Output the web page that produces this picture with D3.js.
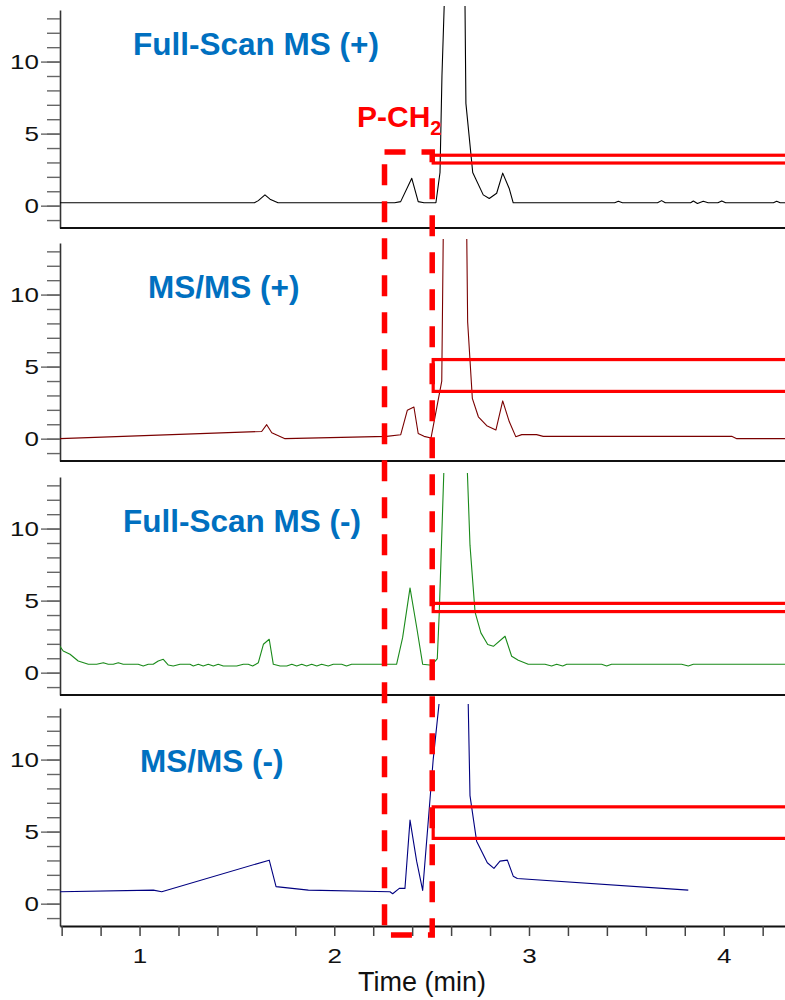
<!DOCTYPE html>
<html>
<head>
<meta charset="utf-8">
<script src="https://cdn.jsdelivr.net/npm/d3@7"></script>
<style>
  html, body { margin: 0; padding: 0; background: #fff; }
  svg { display: block; }
</style>
</head>
<body>
<svg id="chart" width="785" height="1000"></svg>
<script>
// ---------------- DATA ----------------
const panelTitles = ["Full-Scan MS (+)", "MS/MS (+)", "Full-Scan MS (-)", "MS/MS (-)"];
const panelColors = ["#000000", "#7a0000", "#1a8a1a", "#000080"];

const fsPosTime = [0.59,1.59,1.61,1.644,1.67,1.711,2.31,2.341,2.398,2.431,2.461,2.522,2.543,2.553,2.566,2.615,2.671,2.676,2.711,2.765,2.796,2.834,2.865,2.899,2.919,3.44,3.459,3.48,3.66,3.681,3.70,3.83,3.844,3.865,3.895,3.92,3.97,3.99,4.01,4.255,4.272,4.29,4.315];
const fsPosVal  = [0.2,0.2,0.35,0.75,0.45,0.2,0.2,0.28,1.9,0.28,0.2,0.2,2.3,9,14.5,60,14.5,7.1,2.3,0.75,0.5,0.86,2.26,1.17,0.2,0.2,0.3,0.2,0.2,0.35,0.2,0.2,0.32,0.15,0.3,0.2,0.2,0.33,0.2,0.2,0.3,0.2,0.2];

const msmsPosTime = [0.59,1.627,1.653,1.679,1.747,2.269,2.341,2.375,2.409,2.431,2.461,2.497,2.552,2.560,2.62,2.680,2.685,2.709,2.740,2.783,2.830,2.865,2.899,2.932,2.963,3.039,3.073,4.041,4.067,4.315];
const msmsPosVal  = [0,0.5,0.97,0.41,0,0.16,0.27,1.97,2.2,0.36,0.16,0.05,4.0,14.5,60,14.5,8.1,2.8,1.52,0.9,0.6,2.62,1.17,0.14,0.28,0.28,0.16,0.16,0,0];

const fsNegTime = [0.59,0.608,0.643,0.685,0.737,0.780,0.814,0.839,0.865,0.891,0.916,0.993,1.019,1.045,1.070,1.096,1.122,1.148,1.173,1.208,1.259,1.276,1.302,1.327,1.353,1.379,1.404,1.430,1.499,1.533,1.558,1.581,1.610,1.636,1.666,1.687,1.722,1.756,1.782,1.807,1.833,1.858,1.884,1.910,1.935,1.969,1.995,2.038,2.063,2.089,2.320,2.351,2.389,2.423,2.454,2.500,2.529,2.539,2.564,2.62,2.682,2.697,2.723,2.753,2.788,2.817,2.877,2.911,2.945,2.996,3.082,3.116,3.142,3.173,3.194,3.373,3.399,3.424,3.784,3.818,3.844,4.315];
const fsNegVal  = [1.85,1.5,1.28,0.81,0.58,0.58,0.69,0.58,0.58,0.69,0.58,0.58,0.46,0.58,0.58,0.81,0.93,0.53,0.46,0.58,0.58,0.46,0.58,0.46,0.58,0.46,0.58,0.46,0.46,0.58,0.58,0.46,0.69,1.97,2.32,0.58,0.46,0.46,0.58,0.46,0.58,0.46,0.58,0.46,0.58,0.46,0.58,0.58,0.46,0.58,0.58,2.43,5.88,3.17,0.58,0.51,0.97,4.1,14.5,60,14.5,8.85,4.2,2.76,1.95,1.83,2.53,1.14,0.86,0.58,0.58,0.46,0.58,0.46,0.58,0.58,0.46,0.58,0.58,0.46,0.58,0.58];

const msmsNegTime = [0.59,1.071,1.114,1.666,1.701,1.867,2.286,2.300,2.334,2.363,2.389,2.423,2.454,2.492,2.508,2.539,2.60,2.687,2.697,2.731,2.786,2.820,2.851,2.889,2.919,2.940,3.818];
const msmsNegVal  = [0.83,0.94,0.83,3.02,1.18,0.94,0.83,0.69,1.06,1.06,5.8,2.95,0.92,7.3,10.0,14.0,60,14.5,7.5,4.34,2.84,2.45,2.95,3.02,1.91,1.75,0.94];

const seriesTimes = [fsPosTime, msmsPosTime, fsNegTime, msmsNegTime];
const seriesVals  = [fsPosVal, msmsPosVal, fsNegVal, msmsNegVal];

const xTickValues = [0.6,0.8,1,1.2,1.4,1.6,1.8,2,2.2,2.4,2.6,2.8,3,3.2,3.4,3.6,3.8,4,4.2];
const xTickLabels = [1,2,3,4];
const yMinorTicks = [-1,0,1,2,3,4,5,6,7,8,9,10,11,12,13];
const yMajorTicks = [0,5,10];
const xLabel = "Time (min)";

// annotation (red) values in data units
const markerStart = 2.508;              // min
const markerTop    = [3.50, 5.49, 4.81, 6.72];
const markerBottom = [2.96, 3.28, 4.24, 4.53];
const windowStart = 2.258, windowEnd = 2.503;  // min
const windowTopVal = 3.73;      // panel 1 units
const windowBottomVal = -2.17;  // panel 4 units
const peakLabel = "P-CH", peakSub = "2";

// ---------------- LAYOUT ----------------
const svg = d3.select("#chart");
const left = 60, right = 785;
const panelTops = [10, 243, 477, 708];
const panelH = 218;
const yDomain = [-1.55, 13.58];
const titlePos = [[133, 55], [148, 298], [123, 532], [140, 772]];
const font = "'Liberation Sans', Arial, Helvetica, sans-serif";

const x = d3.scaleLinear().domain([0.5915, 4.3147]).range([left, right]);
const ys = panelTops.map(t => d3.scaleLinear().domain(yDomain).range([t + panelH, t]));

svg.append("rect").attr("width", 785).attr("height", 1000).attr("fill", "#fff");

const defs = svg.append("defs");

panelTops.forEach((top, i) => {
  const y = ys[i];
  defs.append("clipPath").attr("id", "clip" + i)
    .append("rect").attr("x", left).attr("y", top - 4).attr("width", right - left).attr("height", panelH + 4);

  const g = svg.append("g");

  // minor y ticks
  const minorAx = g.append("g").attr("transform", `translate(${left},0)`)
    .call(d3.axisLeft(y).tickValues(yMinorTicks).tickSize(13).tickSizeOuter(0).tickFormat(""));
  minorAx.select(".domain").attr("stroke", "#333").attr("stroke-width", 1.6);
  minorAx.selectAll(".tick line").attr("stroke", "#666").attr("stroke-width", 1.4);

  const majorAx = g.append("g").attr("transform", `translate(${left},0)`)
    .call(d3.axisLeft(y).tickValues(yMajorTicks).tickSize(19).tickSizeOuter(0).tickPadding(2));
  majorAx.select(".domain").remove();
  majorAx.selectAll(".tick line").attr("stroke", "#666").attr("stroke-width", 1.4);
  majorAx.selectAll(".tick text")
    .attr("font-family", font).attr("font-size", 20).attr("fill", "#111")
    .attr("x", -21 / 1.3).attr("dy", "0.36em")
    .attr("transform", "scale(1.3,1)");

  // bottom line of the panel
  if (i < 3) {
    g.append("line").attr("x1", left).attr("x2", right)
      .attr("y1", top + panelH).attr("y2", top + panelH)
      .attr("stroke", "#111").attr("stroke-width", 2);
  }

  // data line
  const pts = d3.zip(seriesTimes[i], seriesVals[i]);
  g.append("path")
    .attr("clip-path", `url(#clip${i})`)
    .attr("d", d3.line().x(d => x(d[0])).y(d => y(d[1]))(pts))
    .attr("fill", "none").attr("stroke", panelColors[i]).attr("stroke-width", 1.1)
    .attr("stroke-linejoin", "round");

  // title
  g.append("text").attr("x", titlePos[i][0]).attr("y", titlePos[i][1])
    .attr("font-family", font).attr("font-weight", "bold").attr("font-size", 31.5)
    .attr("fill", "#0070C0").text(panelTitles[i]);
});

// bottom x axis
const bottomY = panelTops[3] + panelH;
const xAx = svg.append("g").attr("transform", `translate(0,${bottomY})`)
  .call(d3.axisBottom(x).tickValues(xTickValues).tickSize(10).tickSizeOuter(0).tickPadding(13)
    .tickFormat(d => xTickLabels.some(v => Math.abs(v - d) < 1e-6) ? d3.format("d")(d) : ""));
xAx.select(".domain").attr("stroke", "#111").attr("stroke-width", 2);
xAx.selectAll(".tick line").attr("stroke", "#444").attr("stroke-width", 1.5);
xAx.selectAll(".tick text")
  .attr("font-family", font).attr("font-size", 20).attr("fill", "#111")
  .attr("transform", "scale(1.3,1)");

svg.append("text").attr("x", 422).attr("y", 991).attr("text-anchor", "middle")
  .attr("font-family", font).attr("font-size", 27).attr("fill", "#111").text(xLabel);

// red solid marker boxes
panelTops.forEach((top, i) => {
  const y = ys[i];
  svg.append("rect")
    .attr("x", x(markerStart)).attr("y", y(markerTop[i]))
    .attr("width", right + 20 - x(markerStart))
    .attr("height", y(markerBottom[i]) - y(markerTop[i]))
    .attr("fill", "none").attr("stroke", "#ff0000").attr("stroke-width", 3.2);
});

// red dashed window
const wx0 = x(windowStart), wx1 = x(windowEnd);
const wy0 = ys[0](windowTopVal), wy1 = ys[3](windowBottomVal);
svg.append("path")
  .attr("d", `M${wx0},${wy0}H${wx1}V${wy1}H${wx0}Z`)
  .attr("fill", "none").attr("stroke", "#ff0000").attr("stroke-width", 5.5)
  .attr("stroke-dasharray", "21,16").attr("stroke-linejoin", "miter");

// P-CH2 label
const lbl = svg.append("text").attr("x", 357).attr("y", 127)
  .attr("font-family", font).attr("font-weight", "bold").attr("font-size", 30)
  .attr("fill", "#ff0000");
lbl.append("tspan").text(peakLabel);
lbl.append("tspan").attr("font-size", 20).attr("dy", 8).text(peakSub);
</script>
</body>
</html>
